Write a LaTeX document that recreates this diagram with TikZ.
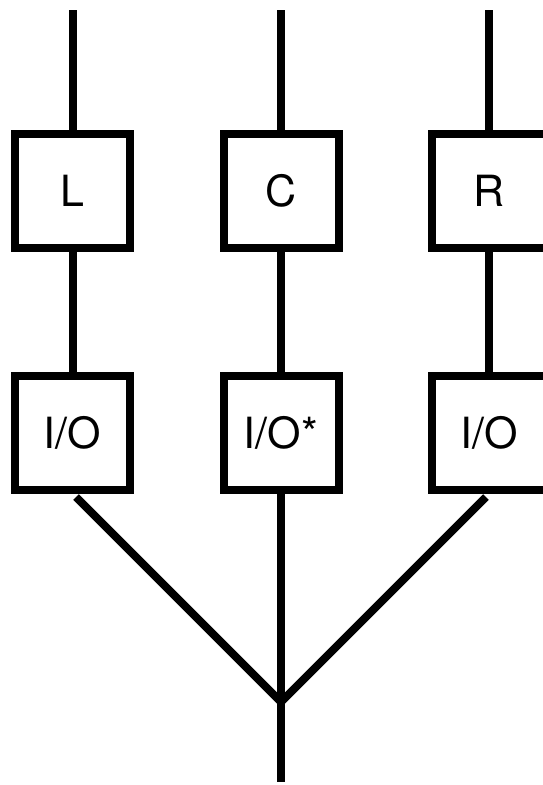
\documentclass[tikz,border=0pt]{standalone}
\usepackage{fontspec}
\setmainfont{TeX Gyre Heros}
\begin{document}
\begin{tikzpicture}[x=1pt, y=-1pt, line width=8pt,
    unit/.style={draw, minimum width=115pt, minimum height=114pt, inner sep=0pt,
      font=\fontsize{43}{43}\selectfont}]
    \useasboundingbox (0, 0) rectangle (543, 785) ;
    \clip (0, 0) rectangle (543, 785) ;
    \node[unit] (l) at (72.5, 191) {L} ;
    \node[unit] (c) at (281, 191) {C} ;
    \node[unit] (r) at (489, 191) {R} ;
    \node[unit] (iol) at (72.5, 432.5) {I/O} ;
    \node[unit] (ioc) at (281, 432.5) {I/O*} ;
    \node[unit] (ior) at (489, 432.5) {I/O} ;
    \coordinate (tl) at (72.5, 10) ;
    \coordinate (tc) at (281, 10) ;
    \coordinate (tr) at (489, 10) ;
    \coordinate (dl) at (76, 497) ;
    \coordinate (dr) at (486, 497) ;
    \coordinate (j) at (281, 702) ;
    \coordinate (out) at (281, 782) ;
    \draw (tl) -- (l) ;
    \draw (tc) -- (c) ;
    \draw (tr) -- (r) ;
    \draw (l) -- (iol) ;
    \draw (c) -- (ioc) ;
    \draw (r) -- (ior) ;
    \draw (dl) -- (j) ;
    \draw (dr) -- (j) ;
    \draw (ioc) -- (out) ;
\end{tikzpicture}
\end{document}
